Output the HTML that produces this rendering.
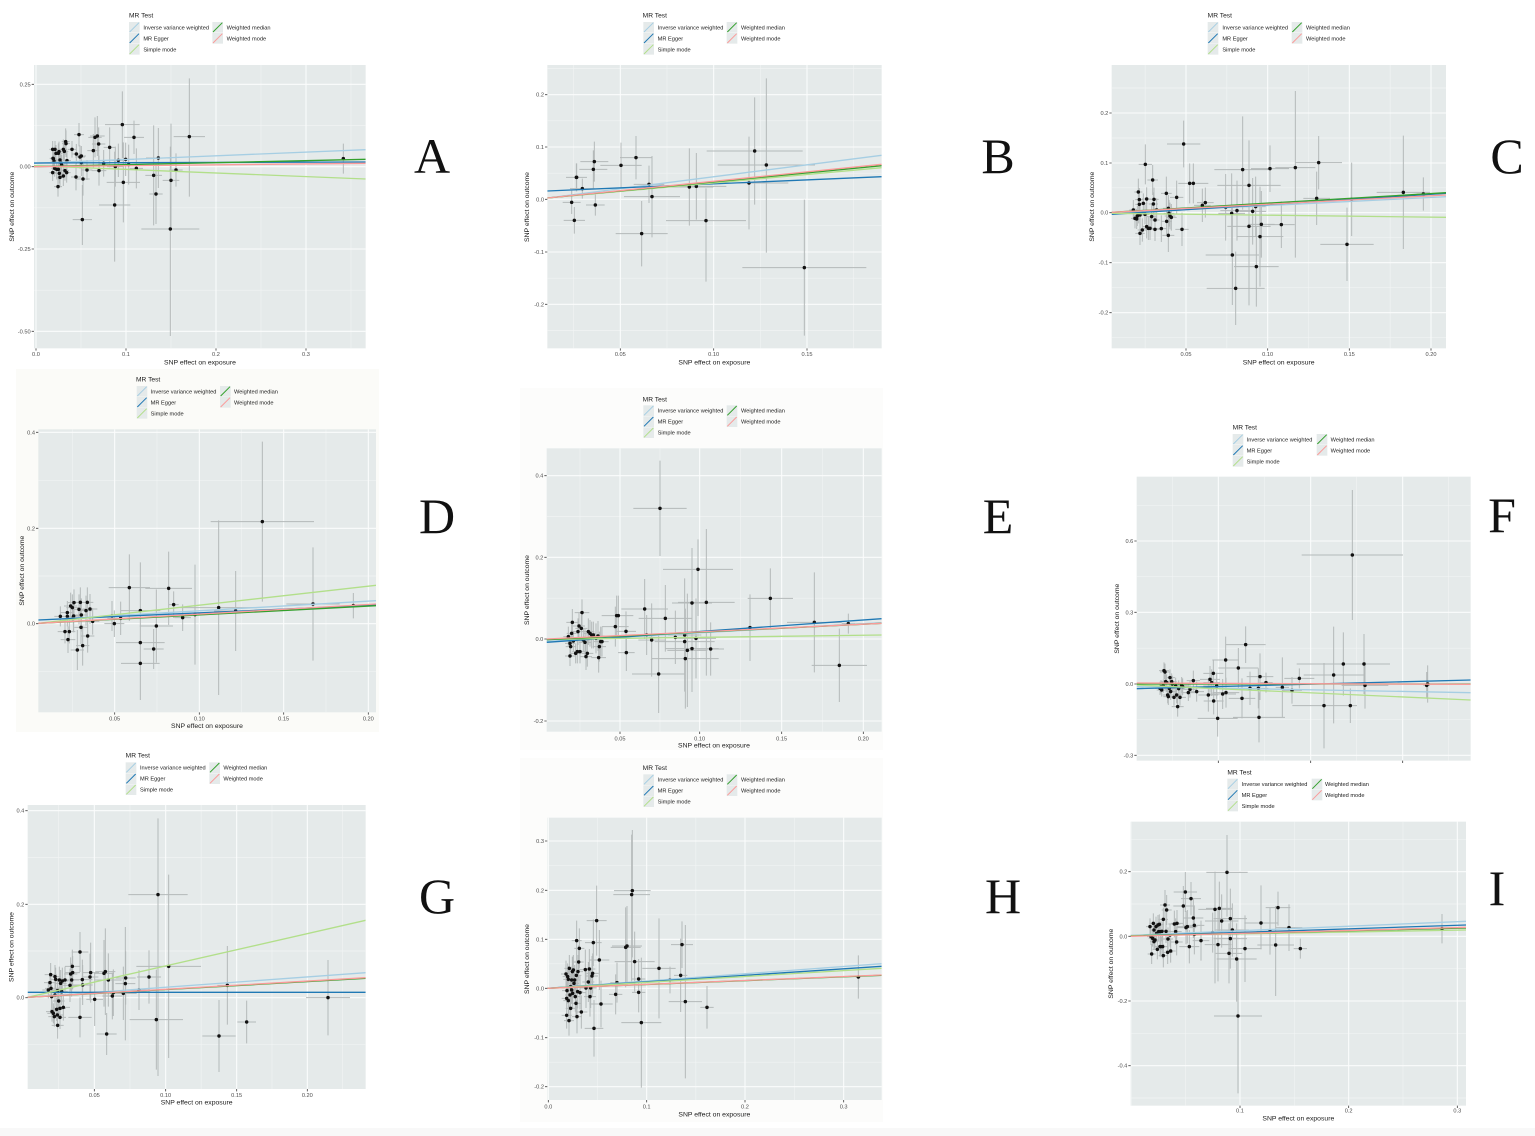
<!DOCTYPE html>
<html><head><meta charset="utf-8">
<style>
html,body{margin:0;padding:0;background:#fff;overflow:hidden;width:1535px;height:1136px}
svg{display:block}
text{font-family:"Liberation Sans",Arial,sans-serif}
.lt{font-family:"Liberation Serif","Times New Roman",serif}
</style></head><body>
<svg id="s" xmlns="http://www.w3.org/2000/svg" width="1535" height="1136" viewBox="0 0 1535 1136">
<rect width="1535" height="1136" fill="#ffffff"/>
<rect x="0" y="1128" width="1535" height="8" fill="#f8f8f8"/>
<rect x="16" y="369" width="363" height="363" fill="#fbfbf8"/>
<rect x="520" y="388" width="363" height="362" fill="#fcfcfb"/>
<rect x="520" y="758" width="363" height="364" fill="#fcfcfb"/>
<g id="layer"></g>

<!-- Panel letters -->
<g class="lt" font-size="50" fill="#111" text-anchor="middle">
<text class="lt" x="432" y="173">A</text>
<text class="lt" x="998" y="173">B</text>
<text class="lt" x="1507" y="173">C</text>
<text class="lt" x="437" y="533">D</text>
<text class="lt" x="998" y="533">E</text>
<text class="lt" x="1502" y="532">F</text>
<text class="lt" x="437" y="913">G</text>
<text class="lt" x="1003" y="913">H</text>
<text class="lt" x="1497" y="905">I</text>
</g>

<!-- Panel A text -->
<g transform="translate(0,0) scale(0.333333)">
<text x="387" y="52" font-size="20" fill="#1a1a1a">MR Test</text>
<g font-size="17" fill="#1a1a1a">
<text x="430" y="88">Inverse variance weighted</text><text x="430" y="121">MR Egger</text><text x="430" y="154">Simple mode</text>
<text x="680" y="88">Weighted median</text><text x="680" y="121">Weighted mode</text></g>
<g font-size="17" fill="#4d4d4d" text-anchor="end">
<text x="92" y="259">0.25</text><text x="92" y="506">0.00</text><text x="92" y="753">-0.25</text><text x="92" y="1000">-0.50</text></g>
<g font-size="17" fill="#4d4d4d" text-anchor="middle">
<text x="108" y="1068">0.0</text><text x="378" y="1068">0.1</text><text x="648" y="1068">0.2</text><text x="918" y="1068">0.3</text></g>
<text x="600" y="1093" font-size="20.5" fill="#1a1a1a" text-anchor="middle">SNP effect on exposure</text>
<text transform="translate(42,620) rotate(-90)" font-size="20.5" fill="#1a1a1a" text-anchor="middle">SNP effect on outcome</text>
</g>

<!-- Panel B text -->
<g transform="translate(500,0) scale(0.333333)">
<text x="428" y="52" font-size="20" fill="#1a1a1a">MR Test</text>
<g font-size="17" fill="#1a1a1a">
<text x="473" y="88">Inverse variance weighted</text><text x="473" y="121">MR Egger</text><text x="473" y="154">Simple mode</text>
<text x="723" y="88">Weighted median</text><text x="723" y="121">Weighted mode</text></g>
<g font-size="17" fill="#4d4d4d" text-anchor="end">
<text x="132" y="290">0.2</text><text x="132" y="447">0.1</text><text x="132" y="604">0.0</text><text x="132" y="762">-0.1</text><text x="132" y="919">-0.2</text></g>
<g font-size="17" fill="#4d4d4d" text-anchor="middle">
<text x="361" y="1068">0.05</text><text x="641" y="1068">0.10</text><text x="921" y="1068">0.15</text></g>
<text x="643" y="1093" font-size="20.5" fill="#1a1a1a" text-anchor="middle">SNP effect on exposure</text>
<text transform="translate(87,621) rotate(-90)" font-size="20.5" fill="#1a1a1a" text-anchor="middle">SNP effect on outcome</text>
</g>

<!-- Panel C text -->
<g transform="translate(1080,0) scale(0.333333)">
<text x="383" y="52" font-size="20" fill="#1a1a1a">MR Test</text>
<g font-size="17" fill="#1a1a1a">
<text x="427" y="88">Inverse variance weighted</text><text x="427" y="121">MR Egger</text><text x="427" y="154">Simple mode</text>
<text x="678" y="88">Weighted median</text><text x="678" y="121">Weighted mode</text></g>
<g font-size="17" fill="#4d4d4d" text-anchor="end">
<text x="85" y="345">0.2</text><text x="85" y="495">0.1</text><text x="85" y="644">0.0</text><text x="85" y="794">-0.1</text><text x="85" y="944">-0.2</text></g>
<g font-size="17" fill="#4d4d4d" text-anchor="middle">
<text x="318" y="1068">0.05</text><text x="563" y="1068">0.10</text><text x="808" y="1068">0.15</text><text x="1053" y="1068">0.20</text></g>
<text x="596" y="1093" font-size="20.5" fill="#1a1a1a" text-anchor="middle">SNP effect on exposure</text>
<text transform="translate(42,620) rotate(-90)" font-size="20.5" fill="#1a1a1a" text-anchor="middle">SNP effect on outcome</text>
</g>

<!-- Panel D text -->
<g transform="translate(0,360) scale(0.333333)">
<text x="408" y="64" font-size="20" fill="#1a1a1a">MR Test</text>
<g font-size="17" fill="#1a1a1a">
<text x="452" y="100">Inverse variance weighted</text><text x="452" y="133">MR Egger</text><text x="452" y="166">Simple mode</text>
<text x="702" y="100">Weighted median</text><text x="702" y="133">Weighted mode</text></g>
<g font-size="17" fill="#4d4d4d" text-anchor="end">
<text x="105" y="223">0.4</text><text x="105" y="511">0.2</text><text x="105" y="797">0.0</text></g>
<g font-size="17" fill="#4d4d4d" text-anchor="middle">
<text x="344" y="1081">0.05</text><text x="598" y="1081">0.10</text><text x="851" y="1081">0.15</text><text x="1105" y="1081">0.20</text></g>
<text x="621" y="1104" font-size="20.5" fill="#1a1a1a" text-anchor="middle">SNP effect on exposure</text>
<text transform="translate(72,632) rotate(-90)" font-size="20.5" fill="#1a1a1a" text-anchor="middle">SNP effect on outcome</text>
</g>

<!-- Panel E text -->
<g transform="translate(500,380) scale(0.333333)">
<text x="428" y="64" font-size="20" fill="#1a1a1a">MR Test</text>
<g font-size="17" fill="#1a1a1a">
<text x="473" y="98">Inverse variance weighted</text><text x="473" y="131">MR Egger</text><text x="473" y="164">Simple mode</text>
<text x="723" y="98">Weighted median</text><text x="723" y="131">Weighted mode</text></g>
<g font-size="17" fill="#4d4d4d" text-anchor="end">
<text x="130" y="293">0.4</text><text x="130" y="538">0.2</text><text x="130" y="783">0.0</text><text x="130" y="1029">-0.2</text></g>
<g font-size="17" fill="#4d4d4d" text-anchor="middle">
<text x="360" y="1081">0.05</text><text x="599" y="1081">0.10</text><text x="845" y="1081">0.15</text><text x="1090" y="1081">0.20</text></g>
<text x="642" y="1102" font-size="20.5" fill="#1a1a1a" text-anchor="middle">SNP effect on exposure</text>
<text transform="translate(87,630) rotate(-90)" font-size="20.5" fill="#1a1a1a" text-anchor="middle">SNP effect on outcome</text>
</g>

<!-- Panel F text -->
<g transform="translate(1080,410) scale(0.333333)">
<text x="458" y="59" font-size="20" fill="#1a1a1a">MR Test</text>
<g font-size="17" fill="#1a1a1a">
<text x="500" y="94">Inverse variance weighted</text><text x="500" y="127">MR Egger</text><text x="500" y="160">Simple mode</text>
<text x="752" y="94">Weighted median</text><text x="752" y="127">Weighted mode</text></g>
<g font-size="17" fill="#4d4d4d" text-anchor="end">
<text x="160" y="399">0.6</text><text x="160" y="613">0.3</text><text x="160" y="828">0.0</text><text x="160" y="1042">-0.3</text></g>
<text transform="translate(117,626) rotate(-90)" font-size="20.5" fill="#1a1a1a" text-anchor="middle">SNP effect on outcome</text>
</g>

<!-- Panel G text -->
<g transform="translate(0,750) scale(0.333333)">
<text x="377" y="23" font-size="20" fill="#1a1a1a">MR Test</text>
<g font-size="17" fill="#1a1a1a">
<text x="420" y="59">Inverse variance weighted</text><text x="420" y="92">MR Egger</text><text x="420" y="125">Simple mode</text>
<text x="670" y="59">Weighted median</text><text x="670" y="92">Weighted mode</text></g>
<g font-size="17" fill="#4d4d4d" text-anchor="end">
<text x="73" y="188">0.4</text><text x="73" y="469">0.2</text><text x="73" y="749">0.0</text></g>
<g font-size="17" fill="#4d4d4d" text-anchor="middle">
<text x="283" y="1041">0.05</text><text x="497" y="1041">0.10</text><text x="710" y="1041">0.15</text><text x="922" y="1041">0.20</text></g>
<text x="590" y="1064" font-size="20.5" fill="#1a1a1a" text-anchor="middle">SNP effect on exposure</text>
<text transform="translate(40,591) rotate(-90)" font-size="20.5" fill="#1a1a1a" text-anchor="middle">SNP effect on outcome</text>
</g>

<!-- Panel H text -->
<g transform="translate(500,750) scale(0.333333)">
<text x="428" y="60" font-size="20" fill="#1a1a1a">MR Test</text>
<g font-size="17" fill="#1a1a1a">
<text x="473" y="95">Inverse variance weighted</text><text x="473" y="128">MR Egger</text><text x="473" y="161">Simple mode</text>
<text x="723" y="95">Weighted median</text><text x="723" y="128">Weighted mode</text></g>
<g font-size="17" fill="#4d4d4d" text-anchor="end">
<text x="132" y="279">0.3</text><text x="132" y="427">0.2</text><text x="132" y="574">0.1</text><text x="132" y="721">0.0</text><text x="132" y="869">-0.1</text><text x="132" y="1016">-0.2</text></g>
<g font-size="17" fill="#4d4d4d" text-anchor="middle">
<text x="145" y="1076">0.0</text><text x="440" y="1076">0.1</text><text x="735" y="1076">0.2</text><text x="1031" y="1076">0.3</text></g>
<text x="643" y="1099" font-size="20.5" fill="#1a1a1a" text-anchor="middle">SNP effect on exposure</text>
<text transform="translate(87,627) rotate(-90)" font-size="20.5" fill="#1a1a1a" text-anchor="middle">SNP effect on outcome</text>
</g>

<!-- Panel I text -->
<g transform="translate(1080,760) scale(0.333333)">
<text x="442" y="43" font-size="20" fill="#1a1a1a">MR Test</text>
<g font-size="17" fill="#1a1a1a">
<text x="485" y="78">Inverse variance weighted</text><text x="485" y="111">MR Egger</text><text x="485" y="144">Simple mode</text>
<text x="735" y="78">Weighted median</text><text x="735" y="111">Weighted mode</text></g>
<g font-size="17" fill="#4d4d4d" text-anchor="end">
<text x="142" y="341">0.2</text><text x="142" y="535">0.0</text><text x="142" y="729">-0.2</text><text x="142" y="923">-0.4</text></g>
<g font-size="17" fill="#4d4d4d" text-anchor="middle">
<text x="480" y="1058">0.1</text><text x="806" y="1058">0.2</text><text x="1132" y="1058">0.3</text></g>
<text x="655" y="1082" font-size="20.5" fill="#1a1a1a" text-anchor="middle">SNP effect on exposure</text>
<text transform="translate(99,611) rotate(-90)" font-size="20.5" fill="#1a1a1a" text-anchor="middle">SNP effect on outcome</text>
</g>
</svg>

<script>
(function(){
var NS='http://www.w3.org/2000/svg';
var COL=['#a6cee3','#1f78b4','#b2df8a','#33a02c','#fb9a99'];
var P=[
{o:[0,0],b:[102,1097,195,1045],gx:[108,378,648,918],mx:[243,513,783,1053],gy:[253,500,747,994],my:[376.5,623.5,870.5],
ln:[[490,449],[489,486],[497,537],[500,478],[500,490]],lg:[387,637,82],
pts:[[237,404,15,35],[216,448,12,25],[229,462,14,30],[244,468,14,30],[240,471,15,35],[244,488,16,40],[249,537,20,50],[228,531,15,40],[261,510,16,30],[247,659,29,104,76],[280,452,18,50],[285,412,20,60],[292,408,22,60],[296,432,20,50],[297,512,22,45],[329,442,18,60],[311,490,15,40],[346,500,25,60],[344,615,47,160,170],[355,481,20,50],[367,374,52,100],[377,478,25,50],[370,547,50,120],[386,494,20,60],[402,412,30,50],[409,505,20,60],[461,526,25,150],[468,582,20,90],[475,474,37,90],[511,687,87,247,321],[513,541,25,170,140],[528,510,20,50],[568,410,47,175,180],[1030,476,5,45],
[158,448,10,25],[165,448,10,25],[160,476,10,25],[162,483,10,25],[168,460,10,25],[175,460,12,30],[177,455,12,30],[190,448,12,30],[193,454,12,30],[198,431,12,40],[197,425,12,40],[201,482,12,30],[180,480,12,30],[183,488,12,30],[185,495,12,30],[170,508,12,30],[158,518,10,25],[175,508,12,30],[178,520,12,30],[190,528,12,30],[180,532,12,30],[195,512,12,30],[200,518,12,30],[174,560,12,30],[164,505,10,25],[159,475,10,25]]},
{o:[500,0],b:[142,1145,195,1045],gx:[361,641,921],mx:[221,501,781,1061],gy:[284,441,598,756,913],my:[205.5,362.5,519.5,677,834.5,991.5],
ln:[[594,466],[573,530],[594,503],[594,497],[594,493]],lg:[430,680,82],
pts:[[229,532,31,42],[230,532,31,42],[283,485,42,60],[280,508,42,57],[247,566,37,30],[215,607,27,35],[223,661,32,40],[286,615,28,32],[363,496,62,68],[408,473,48,65],[447,553,46,56],[456,590,84,122],[425,701,78,98],[568,561,72,116],[589,559,90,100],[618,662,120,97,183],[747,549,118,139],[764,453,144,161],[799,495,146,260,263],[913,803,186,204]]},
{o:[1080,0],b:[95,1098,195,1045],gx:[318,563,808,1053],mx:[195.5,440.5,685.5,930.5],gy:[339,489,638,788,938],my:[264,414,563.5,713,863,1013],
ln:[[640,590],[643,580],[640,652],[637,578],[637,585]],lg:[383,635,82],
pts:[[160,630,12,30],[165,655,12,30],[170,657,12,30],[175,576,12,40],[178,599,12,35],[178,613,12,35],[180,700,14,35],[172,648,12,30],[176,640,12,30],[180,645,12,30],[187,690,14,35],[190,610,12,30],[195,643,12,30],[196,493,20,60],[200,597,14,35],[200,680,14,35],[205,685,14,35],[210,685,14,35],[215,650,14,35],[218,540,16,45],[220,612,14,35],[222,598,14,35],[225,660,14,35],[225,688,14,35],[230,630,14,35],[244,686,16,40],[259,580,16,50],[260,664,16,40],[265,706,18,50],[265,625,16,40],[267,640,16,40],[270,648,16,40],[274,652,16,40],[290,592,20,50],[306,688,20,50],[311,432,50,70],[329,550,25,60],[340,550,45,60],[367,616,25,50],[376,608,25,45],[437,622,40,100],[455,640,40,120],[457,765,80,150],[467,865,87,110],[471,632,50,90],[488,509,85,160,120],[507,556,95,135,360],[507,679,65,120],[518,634,40,100],[527,620,30,90],[529,800,67,120],[540,710,70,150],[544,673,40,100],[570,506,57,70],[604,674,40,70],[646,503,60,230,270],[710,595,40,80],[716,488,70,80],[801,733,80,110],[815,598,30,110],[970,577,80,170],[1030,582,20,50]]},
{o:[0,360],b:[115,1128,208,1057],gx:[344,598,851,1105],mx:[217,471,724.5,978],gy:[217,505,791],my:[361,648,934],
ln:[[780,722],[780,735],[790,676],[790,737],[790,732]],lg:[410,660,94],
pts:[[181,769,18,30],[195,815,22,35],[202,758,20,35],[204,839,22,40],[208,815,18,35],[202,769,18,30],[212,738,20,40],[217,743,18,40],[220,772,18,45],[221,768,18,45],[222,728,18,40],[232,870,20,60],[237,748,18,45],[241,727,18,45],[243,802,20,50],[244,765,18,50],[248,857,20,60],[258,752,18,45],[262,727,18,45],[263,828,20,50],[270,747,22,45],[278,784,20,40],[336,768,22,45],[343,791,30,40],[362,775,40,50],[388,683,62,100],[421,752,60,145,268],[421,848,73,80],[421,910,58,110],[461,867,30,60],[469,798,50,110],[506,685,70,110],[521,734,15,40],[548,773,25,40],[585,764,30,150],[656,743,115,262],[707,753,65,120],[787,485,155,240],[939,732,80,170],[1060,737,15,38]]},
{o:[500,380],b:[140,1145,205,1055],gx:[360,599,845,1090],mx:[240,480,722,967],gy:[287,532,777,1023],my:[409.5,654.5,900],
ln:[[784,728],[787,716],[778,765],[779,730],[777,730]],lg:[430,680,92],
pts:[[205,770,15,30],[210,790,15,30],[212,800,15,30],[210,828,15,30],[215,760,15,30],[217,727,18,40],[220,783,15,30],[227,820,15,30],[232,815,15,35],[234,755,18,40],[237,738,18,40],[240,815,18,35],[244,745,18,40],[246,698,22,40],[250,780,18,35],[255,787,18,40],[258,830,18,40],[262,820,18,40],[265,755,18,40],[270,760,18,40],[275,765,18,40],[280,765,20,40],[288,775,20,45],[294,768,20,45],[296,833,22,45],[298,800,20,45],[302,785,20,45],[306,785,20,45],[346,740,40,60],[350,707,45,60],[355,707,45,60],[378,754,30,60],[379,818,25,55],[434,687,70,90],[440,765,40,60],[455,780,40,110],[476,882,80,117],[480,385,80,143],[496,715,80,100],[526,772,80,80],[554,765,50,170],[554,785,90,120],[556,836,100,150],[562,811,60,170],[576,669,60,165],[576,806,80,130],[588,775,60,120],[594,568,105,90,140],[619,667,85,220],[632,807,40,80],[750,743,10,100],[811,655,68,90],[943,727,82,150],[1018,856,83,110],[1045,731,20,30]]},
{o:[1080,410],b:[170,1172,200,1052],gx:[415,692,968],mx:[277,553.5,830,1106],gy:[393,607,822,1036],my:[286,500,714.5,929],
ln:[[830,848],[836,810],[825,870],[822,822],[819,823]],lg:[458,710,88],
pts:[[240,835,15,20],[243,830,15,20],[245,840,15,20],[250,828,15,20],[252,782,15,25],[255,786,15,25],[257,815,15,25],[260,818,15,25],[263,855,15,25],[265,860,15,25],[268,835,15,25],[270,803,15,25],[272,845,15,25],[275,815,15,25],[277,822,15,25],[282,862,18,25],[287,828,18,25],[290,855,18,25],[293,890,18,30],[296,836,18,25],[300,862,18,25],[305,826,18,25],[308,830,18,25],[325,848,20,25],[330,838,20,25],[340,812,20,30],[350,845,22,30],[385,855,30,50],[390,808,30,40],[395,818,25,40],[400,790,30,40],[401,873,30,40],[410,828,40,40],[413,925,60,55],[428,852,40,45],[437,750,40,70],[438,848,40,45],[475,774,60,60],[486,865,40,60],[497,704,60,55],[510,835,30,50],[535,835,30,60],[537,922,78,75],[540,800,40,70],[558,818,20,30],[607,832,20,90],[636,841,30,40],[658,805,45,30],[732,887,95,128],[761,795,90,145],[790,762,140,95],[811,887,20,52],[817,435,152,195],[852,762,78,90],[855,826,70,70],[1043,822,10,56],[1040,826,10,40]]},
{o:[0,750],b:[83,1097,165,1017],gx:[283,497,710,922],mx:[176,390,603.5,816,1028],gy:[182,463,743],my:[322.5,603,883],
ln:[[742,668],[727,727],[742,511],[742,685],[742,683]],lg:[377,628,53],
pts:[[145,720,18,25],[150,698,18,30],[152,674,18,35],[153,715,18,30],[155,740,18,35],[156,785,18,30],[160,790,18,30],[163,800,18,30],[165,735,18,35],[165,680,18,35],[167,688,18,35],[170,778,18,35],[172,795,18,35],[173,826,18,40],[173,722,18,35],[176,753,18,40],[178,690,18,40],[180,802,18,35],[180,775,18,35],[182,700,18,40],[185,725,18,40],[187,693,18,40],[190,772,20,40],[195,690,20,40],[210,706,20,50],[212,672,20,50],[215,690,22,50],[218,668,22,50],[217,649,22,50],[240,606,25,60],[240,802,35,60],[247,689,30,60],[248,705,30,60],[270,681,25,70],[272,668,25,90],[284,748,25,80],[312,670,30,100],[316,665,30,130],[320,852,30,63],[325,690,40,80],[337,738,30,70],[340,728,30,70],[370,730,40,80],[376,701,30,170],[377,684,30,80],[417,720,40,60],[447,681,36,80],[469,809,80,150],[474,434,89,229,544],[506,649,97,275],[657,858,50,108],[682,706,30,118],[740,816,28,64],[984,743,66,113]]},
{o:[500,750],b:[142,1145,203,1050],gx:[145,440,735,1031],mx:[292.5,587.5,883],gy:[273,421,568,715,863,1010],my:[347,494.5,641.5,789,936.5],
ln:[[715,641],[715,649],[715,655],[715,676],[715,675]],lg:[430,680,89],
pts:[[198,672,15,40],[200,745,15,40],[200,796,15,40],[201,722,15,40],[203,680,15,40],[205,752,15,40],[205,688,15,40],[207,812,15,45],[208,655,15,40],[210,735,15,40],[212,710,15,40],[212,775,15,40],[215,690,15,40],[215,720,15,40],[217,665,15,45],[218,730,15,45],[220,660,15,45],[222,700,15,45],[224,690,15,45],[226,740,15,45],[228,760,15,45],[229,676,15,45],[230,572,15,60],[231,800,15,50],[233,725,15,50],[234,665,15,50],[236,636,15,50],[238,595,15,60],[240,728,18,50],[244,786,18,50],[256,659,18,60],[258,714,18,60],[265,696,18,60],[268,657,18,60],[270,740,18,60],[272,714,18,60],[276,678,18,60],[278,670,18,60],[280,578,25,70],[282,835,28,85],[290,512,30,105],[298,630,30,90],[303,762,35,70],[347,733,20,60],[351,698,20,60],[377,592,45,120],[381,588,45,120],[395,434,55,180,260],[397,422,55,182,200],[404,635,60,90],[416,687,20,60],[416,727,20,60],[424,818,60,195],[477,655,50,150],[510,690,25,40],[542,676,20,110],[546,584,33,70],[556,755,50,230],[621,772,20,64],[1075,681,8,65]]},
{o:[1080,760],b:[152,1158,185,1037],gx:[480,806,1132],mx:[154,317,643,969],gy:[335,529,723,917],my:[238,432,626,820,1014],
ln:[[526,484],[528,495],[527,510],[528,504],[529,502]],lg:[442,695,72],
pts:[[210,500,12,25],[213,530,12,25],[215,582,12,30],[218,535,12,25],[220,490,12,30],[222,545,12,25],[222,510,12,25],[225,540,12,25],[228,500,12,30],[230,520,12,25],[232,568,14,30],[234,495,14,30],[236,515,14,30],[238,493,14,30],[240,560,14,30],[241,515,14,30],[243,560,14,30],[246,514,14,30],[248,560,14,35],[250,478,14,35],[250,587,14,35],[255,435,15,45],[258,514,15,35],[260,450,15,45],[263,577,15,35],[264,537,15,35],[270,525,15,35],[272,573,15,35],[283,492,18,40],[287,515,18,40],[290,546,18,40],[291,490,18,40],[310,438,30,60],[316,396,35,60],[318,503,30,50],[322,500,30,50],[328,560,30,50],[333,416,30,50],[340,474,30,60],[343,496,30,60],[343,523,30,60],[363,542,25,60],[398,518,30,60],[405,448,50,113,222],[414,554,40,110],[418,445,40,80],[425,483,50,80],[447,580,40,90],[451,476,50,90],[451,536,50,90],[457,510,50,80],[441,337,62,112,133],[470,597,60,107,128],[474,768,72,168,232],[495,566,50,100],[543,489,50,113,79],[570,514,40,70],[587,555,55,117,153],[594,443,37,48,54],[627,503,40,70],[661,566,20,30],[1086,506,8,44]]}
];
function el(t,a,p){var e=document.createElementNS(NS,t);for(var k in a)e.setAttribute(k,a[k]);p.appendChild(e);return e;}
var layer=document.getElementById('layer');
P.forEach(function(p,i){
 var L=p.b[0],R=p.b[1],T=p.b[2],B=p.b[3];
 var g=el('g',{transform:'translate('+p.o[0]+','+p.o[1]+') scale(0.333333)'},layer);
 var cp=el('clipPath',{id:'c'+i},g);
 el('rect',{x:L,y:T,width:R-L,height:B-T},cp);
 el('rect',{x:L,y:T,width:R-L,height:B-T,fill:'#e5eaea'},g);
 var d='';
 p.mx.forEach(function(x){d+='M'+x+' '+T+'V'+B;});
 p.my.forEach(function(y){d+='M'+L+' '+y+'H'+R;});
 el('path',{d:d,stroke:'#f1f4f4','stroke-width':2,fill:'none'},g);
 d='';
 p.gx.forEach(function(x){d+='M'+x+' '+T+'V'+B;});
 p.gy.forEach(function(y){d+='M'+L+' '+y+'H'+R;});
 el('path',{d:d,stroke:'#fbfcfc','stroke-width':3.2,fill:'none'},g);
 var c=el('g',{'clip-path':'url(#c'+i+')'},g);
 d='';
 p.pts.forEach(function(q){var x=q[0],y=q[1],h=q[2],v=q[3],v2=(q.length>4?q[4]:q[3]);d+='M'+(x-h)+' '+y+'H'+(x+h)+'M'+x+' '+(y-v)+'V'+(y+v2);});
 el('path',{d:d,stroke:'#b4b9b9','stroke-width':3,fill:'none'},c);
 p.pts.forEach(function(q){el('circle',{cx:q[0],cy:q[1],r:5.2,fill:'#111'},c);});
 p.ln.forEach(function(l,j){el('line',{x1:L,y1:l[0],x2:R,y2:l[1],stroke:COL[j],'stroke-width':4},c);});
 d='';
 p.gy.forEach(function(y){d+='M'+(L-7)+' '+y+'H'+L;});
 p.gx.forEach(function(x){d+='M'+x+' '+B+'V'+(B+7);});
 el('path',{d:d,stroke:'#444','stroke-width':2.5,fill:'none'},g);
 var k1=p.lg[0],k2=p.lg[1],r=p.lg[2];
 [[k1,r],[k1,r+33],[k1,r+66],[k2,r],[k2,r+33]].forEach(function(k,j){
  el('rect',{x:k[0],y:k[1]-16,width:32,height:32,fill:'#e5eaea'},g);
  el('line',{x1:k[0]+2,y1:k[1]+14,x2:k[0]+30,y2:k[1]-14,stroke:COL[j],'stroke-width':3},g);
 });
});
})();
</script>
</body></html>
